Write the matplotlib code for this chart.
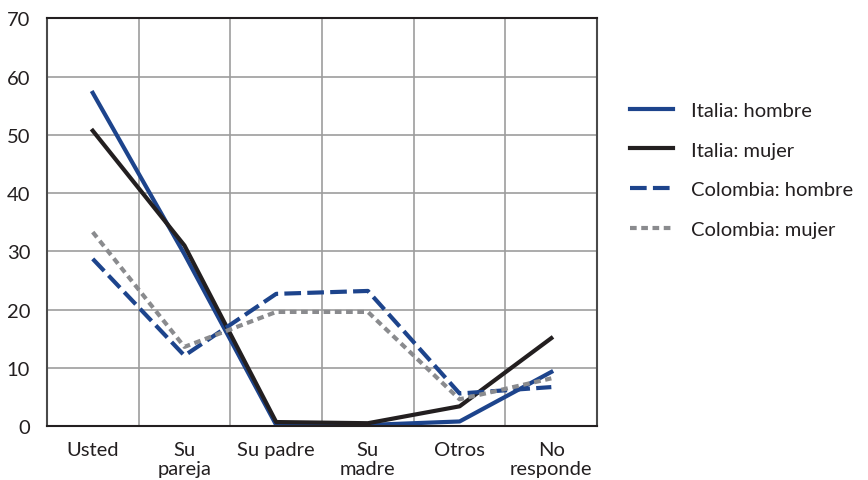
import matplotlib
matplotlib.use("Agg")
import numpy as np
import matplotlib.pyplot as plt

plt.rcParams["font.family"] = ["Lato", "DejaVu Sans"]

categories = ["Usted", "Su\npareja", "Su padre", "Su\nmadre", "Otros", "No\nresponde"]
italia_hombre = [57.2, 29.5, 0.2, 0.2, 0.8, 9.3]
italia_mujer = [50.7, 31.0, 0.7, 0.5, 3.4, 15.1]
colombia_hombre = [28.7, 12.1, 22.7, 23.2, 5.6, 6.7]
colombia_mujer = [33.3, 13.6, 19.6, 19.6, 4.6, 8.2]

BLUE = "#1d448c"
BLACK = "#231f20"
GREY = "#8a8b8e"
FS = 14.5

fig = plt.figure(figsize=(8.68, 4.81), dpi=100)
ax = fig.add_axes([0.054, 0.112, 0.634, 0.848])

x = np.arange(len(categories))
lw = 3.0
ax.plot(x, italia_hombre, color=BLUE, lw=lw, label="Italia: hombre")
ax.plot(x, italia_mujer, color=BLACK, lw=lw, label="Italia: mujer")
ax.plot(x, colombia_hombre, color=BLUE, lw=lw, dashes=(4, 1.5), label="Colombia: hombre")
ax.plot(x, colombia_mujer, color=GREY, lw=lw, dashes=(1.6, 1.1), label="Colombia: mujer")

ax.set_xlim(-0.5, len(categories) - 0.5)
ax.set_ylim(0, 70)
ax.set_yticks(range(0, 71, 10))
ax.set_xticks(x)
ax.set_xticklabels(categories, fontsize=FS, color=BLACK, linespacing=1.1)
ax.tick_params(axis="y", labelsize=FS, labelcolor=BLACK, length=0, pad=12)
ax.tick_params(axis="x", length=0, pad=11)

# vertical grid lines sit between categories
ax.set_xticks(np.arange(0.5, len(categories) - 0.5), minor=True)
ax.tick_params(axis="x", which="minor", length=0)
ax.grid(axis="x", which="minor", color="#9d9d9d", lw=1.2)
ax.grid(axis="y", which="major", color="#9d9d9d", lw=1.2)
ax.set_axisbelow(True)

for name, spine in ax.spines.items():
    spine.set_color("#4a4a4a")
    spine.set_linewidth(1.5)
ax.spines["top"].set_color(BLACK)
ax.spines["bottom"].set_color(BLACK)

leg = fig.legend(
    loc="upper left",
    bbox_to_anchor=(0.705, 0.824),
    frameon=False,
    fontsize=FS,
    handlelength=2.15,
    handletextpad=0.9,
    labelspacing=1.12,
)
for text in leg.get_texts():
    text.set_color(BLACK)

fig.savefig("out.png", dpi=100)
